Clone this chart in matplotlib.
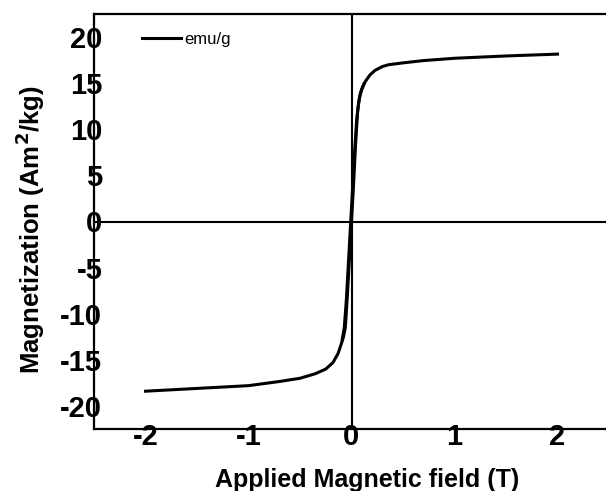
import matplotlib
matplotlib.use("Agg")
import matplotlib.pyplot as plt
import numpy as np

plt.rcParams['font.family'] = ['Liberation Sans', 'DejaVu Sans']
plt.rcParams['axes.unicode_minus'] = False

# applied field (T) and magnetization (Am2/kg)
field = np.array([-2.0, -1.5, -1.0, -0.7, -0.5, -0.35, -0.25, -0.18, -0.13, -0.10,
                  -0.08, -0.06, -0.04, -0.02, 0.0, 0.02, 0.04, 0.06, 0.08, 0.10,
                  0.135, 0.18, 0.23, 0.30, 0.36, 0.5, 0.7, 1.0, 1.5, 2.0])
magn = np.array([-18.4, -18.1, -17.8, -17.35, -17.0, -16.5, -16.0, -15.3, -14.3, -13.3,
                 -12.6, -11.5, -8.0, -4.0, 0.0, 4.0, 8.5, 12.0, 13.6, 14.4,
                 15.2, 15.9, 16.4, 16.8, 17.0, 17.2, 17.45, 17.7, 17.95, 18.15])

# returning branch near the origin (narrow loop)
field_back = np.array([0.12, 0.09, 0.07, 0.05, 0.03, 0.01, -0.01, -0.03, -0.05, -0.07, -0.09])
magn_back = np.array([14.9, 14.0, 13.0, 11.0, 7.5, 3.5, -0.5, -4.5, -8.5, -11.5, -12.8])

xticks = [-2, -1, 0, 1, 2]
yticks = [-20, -15, -10, -5, 0, 5, 10, 15, 20]

fig = plt.figure(figsize=(6.06, 4.91), dpi=100)
ax = fig.add_axes([94/606, 1-429/491, 515/606, 415/491])

ax.plot(field, magn, color='black', lw=2.2, label='emu/g')
ax.plot(field_back, magn_back, color='black', lw=2.2)
ax.axhline(0, color='black', lw=1.5)
ax.axvline(0, color='black', lw=1.5)

ax.set_xlim(-2.5, 2.5)
ax.set_ylim(-22.5, 22.5)
ax.set_xticks(xticks)
ax.set_yticks(yticks)
ax.tick_params(axis='both', length=0, labelsize=21)
ax.tick_params(axis='y', pad=-6)
ax.tick_params(axis='x', pad=-4)
for lab in ax.get_xticklabels() + ax.get_yticklabels():
    lab.set_fontweight('bold')

for s in ['left', 'bottom', 'top']:
    ax.spines[s].set_linewidth(1.6)
ax.spines['right'].set_visible(False)

ax.set_xlabel('Applied Magnetic field (T)', fontsize=18, fontweight='bold')
ax.xaxis.set_label_coords(0.53, -0.095)
ax.set_ylabel('Magnetization (Am$^\\mathbf{2}$/kg)', fontsize=18.5, fontweight='bold')
ax.yaxis.set_label_coords(-0.092, 0.48)

ax.legend(loc='upper left', frameon=False, fontsize=12, handlelength=2.3,
          handletextpad=0.2, bbox_to_anchor=(0.065, 0.993))

fig.savefig('out.png', dpi=100)
